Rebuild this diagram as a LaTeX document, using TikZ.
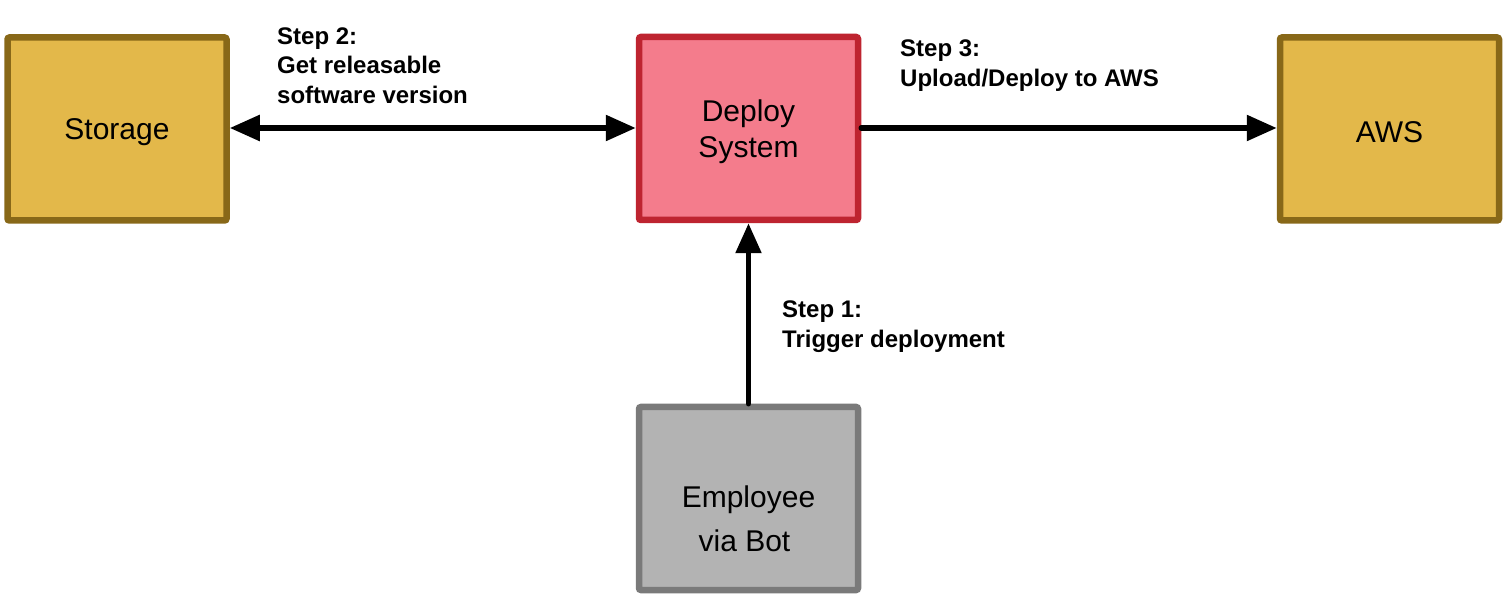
\documentclass[tikz,border=0pt]{standalone}
\usepackage{fontspec}
\setmainfont{Liberation Sans}
\usetikzlibrary{arrows.meta}
\definecolor{goldfill}{HTML}{E3B84A}
\definecolor{golddraw}{HTML}{886818}
\definecolor{redfill}{HTML}{F47C8C}
\definecolor{reddraw}{HTML}{BE2430}
\definecolor{grayfill}{HTML}{B3B3B3}
\definecolor{graydraw}{HTML}{7A7A7A}
\tikzset{
  box/.style={draw, line width=6.5pt, rounded corners=2pt, minimum width=219pt, minimum height=183pt, inner sep=0pt},
  boxtext/.style={font=\fontsize{30}{36}\selectfont, align=center, inner sep=0pt},
  goldbox/.style={box, fill=goldfill, draw=golddraw},
  redbox/.style={box, fill=redfill, draw=reddraw},
  graybox/.style={box, fill=grayfill, draw=graydraw},
  conn/.style={line width=5.5pt, line cap=round, -{Triangle[length=30pt,width=25pt]}},
  conn2/.style={line width=5.5pt, {Triangle[length=30pt,width=25pt]}-{Triangle[length=30pt,width=25pt]}},
  lbl/.style={anchor=north west, inner sep=0pt, align=left, font=\fontsize{24}{29.5}\selectfont\bfseries}
}
\begin{document}
\begin{tikzpicture}[x=1pt,y=-1pt]
\useasboundingbox (0,0) rectangle (1508,601);
\node[goldbox, label={[boxtext, yshift=-3pt]center:Storage}] (storage) at (117,129) {};
\node[redbox, label={[boxtext, yshift=-3pt]center:Deploy\\System}] (deploy) at (748.5,128.5) {};
\node[goldbox, label={[boxtext, yshift=-3pt]center:AWS}] (aws) at (1389.5,129) {};
\node[graybox, label={[boxtext, font=\fontsize{30}{44}\selectfont, yshift=-20.5pt]center:Employee\\\hspace*{-8pt}via Bot}] (emp) at (748.5,498.5) {};
\draw[conn2] (storage.east|-0,128) -- (deploy.west|-0,128);
\draw[conn] (deploy.east|-0,128) -- (aws.west|-0,128);
\draw[conn] (emp.north) -- (deploy.south);
\node[lbl] (l2) at (277,27.5) {Step 2:\\Get releasable\\software version};
\node[lbl] (l3) at (900,40) {Step 3:\\Upload/Deploy to AWS};
\node[lbl] (l1) at (782,301) {Step 1:\\Trigger deployment};
\end{tikzpicture}
\end{document}
